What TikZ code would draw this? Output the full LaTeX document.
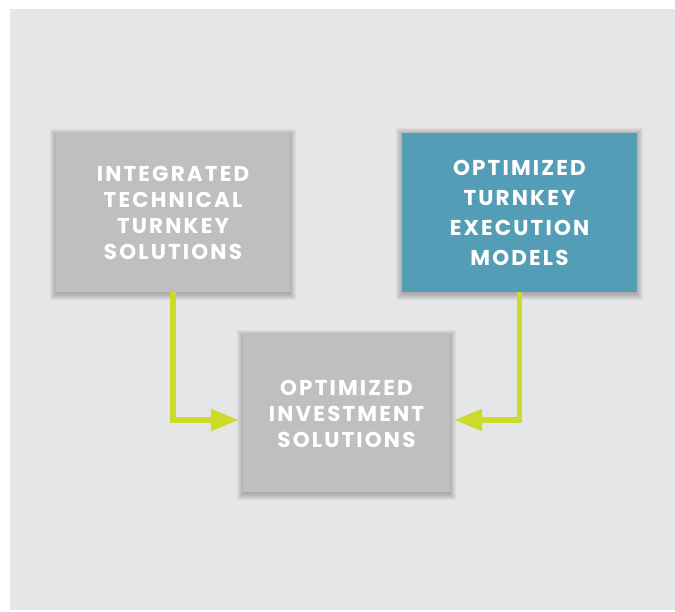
\documentclass[tikz,border=0pt]{standalone}
\usepackage{fontspec}
\newfontfamily\boxfont[LetterSpace=10]{Poppins}
\usetikzlibrary{positioning}
\usetikzlibrary{arrows.meta}
\usetikzlibrary{backgrounds}
\definecolor{panel}{HTML}{E5E6E8}
\definecolor{boxgray}{HTML}{BEBFC1}
\definecolor{boxteal}{HTML}{549DB6}
\definecolor{lime}{HTML}{CCDB2A}
\tikzset{
  box/.style={fill=#1, text=white, align=center,
    font=\boxfont\bfseries\fontsize{21.5}{26}\selectfont},
  halo/.style={fill=black, opacity=0.04},
  flow/.style={draw=lime, line width=5.5pt,
    -{Triangle[length=28pt,width=21pt]}, shorten >=4pt}
}
\begin{document}
\begin{tikzpicture}[x=1pt,y=-1pt]
\useasboundingbox (0,0) rectangle (675,612);
\node[box=boxgray, minimum width=234pt, minimum height=158pt] (tech) at (173,213)
  {INTEGRATED\\TECHNICAL\\TURNKEY\\SOLUTIONS};
\node[box=boxteal, minimum width=235pt, minimum height=159pt,
  font=\boxfont\bfseries\fontsize{21.5}{30}\selectfont] (exec) at (519.5,212.5)
  {OPTIMIZED\\TURNKEY\\EXECUTION\\MODELS};
\node[box=boxgray, minimum width=207pt, minimum height=157pt] (invest) at (346.5,413.5)
  {OPTIMIZED\\INVESTMENT\\SOLUTIONS};
\draw[flow] (tech.south) |- ([yshift=-6.5pt]invest.west);
\draw[flow] (exec.south) |- ([yshift=-6.5pt]invest.east);
% panel and soft shadows behind the boxes
\begin{scope}[on background layer]
\fill[panel] (10,9) rectangle (675,610);
\foreach \n in {tech,exec,invest}
  \foreach \d in {0,...,6}
    \fill[halo] ([shift={(-\d pt,-\d pt-1.5pt)}]\n.south west)
      rectangle ([shift={(\d pt,\d pt-1.5pt)}]\n.north east);
\end{scope}
\end{tikzpicture}
\end{document}
